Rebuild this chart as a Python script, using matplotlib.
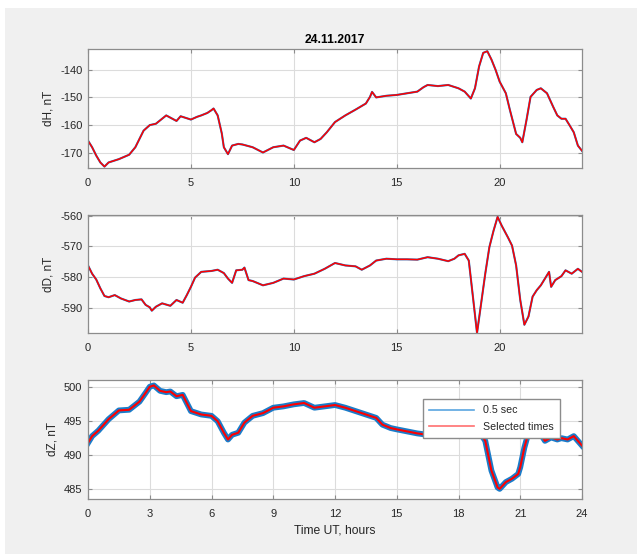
import matplotlib
matplotlib.use("Agg")
import matplotlib.pyplot as plt
from matplotlib.patches import Rectangle

plt.rcParams['font.family'] = ['Liberation Sans', 'DejaVu Sans']
plt.rcParams['axes.unicode_minus'] = False

# time in hours UT and field values in nT
t_h = [0, 0.2, 0.4, 0.6, 0.8, 1.0, 1.5, 2.0, 2.3, 2.5, 2.7, 3.0, 3.3, 3.5, 3.8,
       4.0, 4.3, 4.5, 5.0, 5.3, 5.5, 5.8, 6.0, 6.1, 6.3, 6.5, 6.6, 6.8, 7.0,
       7.3, 7.5, 8.0, 8.5, 9.0, 9.5, 10.0, 10.3, 10.6, 11.0, 11.3, 11.6, 12.0,
       12.5, 13.0, 13.5, 13.7, 13.8, 14.0, 14.5, 15.0, 15.5, 16.0, 16.3, 16.5,
       17.0, 17.5, 18.0, 18.3, 18.6, 18.8, 19.0, 19.2, 19.4, 19.6, 19.8, 20.0,
       20.3, 20.5, 20.8, 21.0, 21.1, 21.3, 21.5, 21.8, 22.0, 22.3, 22.6, 22.8,
       23.0, 23.2, 23.4, 23.6, 23.8, 24.0]
dH = [-165.6, -168, -171, -173.5, -175, -173.5, -172.3, -170.7, -168, -165,
      -162, -160, -159.5, -158.3, -156.5, -157.3, -158.5, -156.8, -158, -157,
      -156.5, -155.6, -154.6, -154, -156.5, -163, -168, -170.5, -167.4, -166.8,
      -167, -168, -169.9, -168, -167.4, -169, -165.6, -164.6, -166.2, -165,
      -162.6, -158.9, -156.5, -154.4, -152.2, -149.8, -148, -150, -149.4,
      -149.1, -148.5, -147.9, -146.3, -145.5, -145.9, -145.5, -146.7, -147.9,
      -150.4, -146.7, -138.8, -133.9, -133.3, -136.3, -140, -144.3, -148.5,
      -154.6, -163.2, -164.6, -166.2, -158.3, -149.8, -147.3, -146.7, -148.5,
      -153.4, -156.5, -157.7, -157.7, -160.1, -162.6, -167.4, -169.3]

t_d = [0, 0.2, 0.4, 0.6, 0.8, 1.0, 1.3, 1.6, 2.0, 2.3, 2.6, 2.8, 3.0, 3.1, 3.3,
       3.6, 4.0, 4.3, 4.6, 4.8, 5.0, 5.2, 5.5, 6.0, 6.3, 6.6, 6.8, 7.0, 7.2,
       7.5, 7.6, 7.8, 8.0, 8.5, 9.0, 9.5, 10.0, 10.5, 11.0, 11.5, 12.0, 12.5,
       13.0, 13.3, 13.7, 14.0, 14.5, 15.0, 15.5, 16.0, 16.5, 17.0, 17.5, 17.8,
       18.0, 18.3, 18.5, 18.7, 18.9, 19.1, 19.3, 19.5, 19.7, 19.9, 20.1, 20.4,
       20.6, 20.8, 21.0, 21.2, 21.4, 21.6, 21.8, 22.0, 22.2, 22.4, 22.5, 22.7,
       23.0, 23.2, 23.5, 23.8, 24.0]
dD = [-576.2, -578.9, -580.8, -583.7, -586.2, -586.6, -585.9, -587, -588,
      -587.5, -587.3, -589.1, -589.9, -591, -589.7, -588.6, -589.4, -587.5,
      -588.4, -585.9, -583.2, -580.2, -578.3, -578, -577.6, -578.7, -580.5,
      -581.9, -577.8, -577.6, -576.9, -581, -581.3, -582.7, -581.9, -580.5,
      -580.8, -579.7, -578.9, -577.3, -575.4, -576.2, -576.5, -577.6, -576.2,
      -574.6, -574, -574.2, -574.2, -574.3, -573.5, -574, -574.8, -574,
      -572.9, -572.4, -574.6, -586.4, -598.3, -588.6, -578.9, -570.2, -564.9,
      -560.3, -563.2, -567, -569.7, -576.2, -587.5, -595.6, -592.9, -586.4,
      -584.3, -582.7, -580.5, -578.3, -583.2, -581, -579.7, -577.8, -578.9,
      -577.3, -578.3]

t_z = [0, 0.2, 0.5, 1.0, 1.5, 2.0, 2.5, 2.8, 3.0, 3.2, 3.5, 3.8, 4.0, 4.3, 4.6,
       5.0, 5.5, 6.0, 6.3, 6.6, 6.8, 7.0, 7.3, 7.6, 8.0, 8.5, 9.0, 9.5, 10.0,
       10.5, 11.0, 11.5, 12.0, 12.5, 13.0, 13.5, 14.0, 14.3, 14.7, 15.0, 15.5,
       16.0, 16.5, 17.0, 17.5, 18.0, 18.5, 19.0, 19.3, 19.6, 19.9, 20.0, 20.3,
       20.6, 20.9, 21.0, 21.2, 21.4, 21.7, 22.0, 22.2, 22.5, 22.8, 23.0, 23.3,
       23.6, 24.0]
dZ = [491.8, 492.8, 493.6, 495.3, 496.6, 496.7, 497.9, 499.2, 500.1, 500.3,
      499.5, 499.3, 499.4, 498.7, 498.9, 496.5, 496, 495.8, 495, 493.3, 492.3,
      493, 493.3, 494.8, 495.8, 496.2, 497, 497.2, 497.5, 497.7, 497, 497.2,
      497.4, 497, 496.5, 496, 495.5, 494.5, 494, 493.8, 493.5, 493.2, 493,
      492.8, 493, 493, 493.1, 493.5, 492.1, 487.7, 485.2, 485, 486, 486.5,
      487.2, 488.2, 491.1, 493.3, 493.8, 493.1, 492.1, 492.6, 492.3, 492.5,
      492.3, 492.8, 491.4]

title = "24.11.2017"
ylabels = ["dH, nT", "dD, nT", "dZ, nT"]
ylims = [(-175.5, -132.5), (-598.3, -559.7), (483.5, 501.1)]
yticks = [[-170, -160, -150, -140], [-590, -580, -570, -560], [485, 490, 495, 500]]
xticks_top = [0, 5, 10, 15, 20]
xticks_bottom = [0, 3, 6, 9, 12, 15, 18, 21, 24]
legend_labels = ["0.5 sec", "Selected times"]

blue = "#1a7cc9"
red = "#FF0000"
txt = "#262626"

W, H = 637, 554
fig = plt.figure(figsize=(W / 100, H / 100), dpi=100, facecolor="white")
fig.patches.append(Rectangle((5 / W, 0), 1, 1 - 8 / H, transform=fig.transFigure,
                             facecolor="#f0f0f0", edgecolor="none", zorder=-10))

boxes = [(49, 168), (215, 333), (380, 499)]
series = [(t_h, dH), (t_d, dD), (t_z, dZ)]
axes = []
for i, (top, bot) in enumerate(boxes):
    ax = fig.add_axes([88 / W, 1 - bot / H, (582 - 88) / W, (bot - top) / H])
    ax.set_facecolor("white")
    t, v = series[i]
    blw = 4.2 if i == 2 else 1.5
    rlw = 1.5 if i == 2 else 1.1
    ax.plot(t, v, color=blue, lw=blw, label=legend_labels[0], solid_joinstyle="round")
    ax.plot(t, v, color=red, lw=rlw, label=legend_labels[1])
    ax.set_xlim(0, 24)
    ax.set_ylim(*ylims[i])
    ax.set_yticks(yticks[i])
    ax.set_xticks(xticks_bottom if i == 2 else xticks_top)
    ax.grid(True, color="#dcdcdc", lw=0.8)
    ax.set_axisbelow(True)
    for s in ax.spines.values():
        s.set_color("#8c8c8c")
        s.set_linewidth(0.9)
    ax.tick_params(direction="in", length=3, width=0.8, color="#8c8c8c",
                   labelcolor=txt, labelsize=8, top=True, right=True)
    ax.tick_params(axis="x", pad=7)
    ax.tick_params(axis="y", pad=4)
    ax.set_ylabel(ylabels[i], fontsize=8.5, color=txt, labelpad=4)
    axes.append(ax)

axes[0].set_title(title, fontsize=8.7, fontweight="bold", color="black", pad=4)
axes[2].set_xlabel("Time UT, hours", fontsize=8.7, color=txt, labelpad=4)

leg = axes[2].legend(loc="upper right", bbox_to_anchor=(0.966, 0.885), fontsize=7.7,
                     fancybox=False, framealpha=1, edgecolor="#8c8c8c",
                     handlelength=4.2, borderpad=0.6, labelspacing=0.6)
for h in leg.get_lines():
    h.set_linewidth(1.2)
leg.get_lines()[0].set_color("#5aa6e0")
leg.get_lines()[1].set_color("#ff7070")
for tx in leg.get_texts():
    tx.set_color(txt)

fig.savefig("out.png", dpi=100, facecolor=fig.get_facecolor())
